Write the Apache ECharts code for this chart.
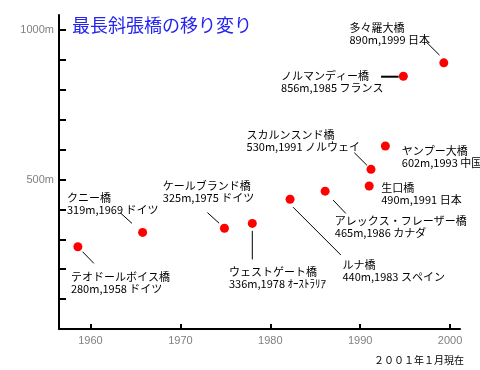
<!DOCTYPE html>
<html><head><meta charset="utf-8">
<script src="https://cdn.jsdelivr.net/npm/echarts@6/dist/echarts.min.js"></script>
<style>html,body{margin:0;padding:0;background:#fff}#c{width:480px;height:370px}</style>
</head><body><div id="c"></div>
<script>
// ---- data ----
const bridgeNames = ['テオドールボイス橋','クニー橋','ケールブランド橋','ウェストゲート橋','ルナ橋','アレックス・フレーザー橋','スカルンスンド橋','生口橋','ヤンプー大橋','ノルマンディー橋','多々羅大橋'];
const spanLabels = ['280','319','325','336','440','465','530','490','602','856','890'];
const yearLabels = ['1958','1969','1975','1978','1983','1986','1991','1991','1993','1985','1999'];
const countries = ['ドイツ','ドイツ','ドイツ','ｵｰｽﾄﾗﾘｱ','スペイン','カナダ','ノルウェイ','日本','中国','フランス','日本'];
// plotted positions (year axis, metres)
const xPlot = [1958.6,1965.8,1974.9,1978.0,1982.2,1986.1,1991.2,1991.0,1992.8,1994.8,1999.3];
const yPlot = [275,323,337,353,434,461,534,478,612,845,890];
const xTicks = [1960,1970,1980,1990,2000];
const yTicks = [100,200,300,400,500,600,700,800,900,1000];
const yLabelVals = [500,1000];

// ---- layout (pixel offsets from each dot) ----
const labelOffsets = [[-7,24],[-75.6,-40.6],[-61.6,-48.3],[-23.3,42.4],[52.4,59.7],[9.7,24],[-124.4,-40.3],[12,-4.3],[16.4,-1],[-122.3,-6.6],[-94.3,-41.3]];
const leaders = [[4.7,5,16,16.6],[-22.3,-19.6,-10.6,-9],[-17,-15.6,-5.3,-5],[0,7.4,0,36],[3,8,50.7,55.7],[8,9,20.7,22.3],[-16.7,-16.6,-4,-4],null,null,[-22.3,0.4,-4.7,0.4],[-17,-20.3,-4.3,-7.7]];
const leaderWidths = [1,1,1,1,1,1,1,0,0,2,1];

const FONT = '"Noto Sans CJK JP", sans-serif';
const NUMFONT = '"Liberation Sans Narrow", "Liberation Sans", sans-serif';
const chart = echarts.init(document.getElementById('c'));
const pts = xPlot.map((x, i) => [x, yPlot[i]]);

chart.setOption({
  animation: false,
  backgroundColor: '#fff',
  title: {
    text: '最長斜張橋の移り変り', left: 67, top: 11,
    textStyle: { fontFamily: FONT, fontSize: 18, fontWeight: 'normal', color: '#2424f0' }
  },
  graphic: [{
    type: 'text', left: 374, top: 355,
    style: { text: '２００１年１月現在', font: '10px ' + FONT, fill: '#000' }
  }],
  grid: { left: 59, right: 20, top: 15, bottom: 41 },
  xAxis: {
    type: 'value', min: 1956.5, max: 2001.1,
    splitLine: { show: false },
    axisLine: { lineStyle: { color: '#000', width: 2 } },
    axisTick: { inside: true, length: 5, customValues: xTicks, lineStyle: { color: '#000', width: 2 } },
    axisLabel: { customValues: xTicks, formatter: v => String(v), color: '#808080', fontSize: 11, fontFamily: NUMFONT, margin: 6 }
  },
  yAxis: {
    type: 'value', min: 0, max: 1050,
    splitLine: { show: false },
    axisLine: { show: true, lineStyle: { color: '#000', width: 2 } },
    axisTick: { show: true, inside: true, length: 7, customValues: yTicks, lineStyle: { color: '#000', width: 2 } },
    axisLabel: { customValues: yLabelVals, formatter: v => String(v) + 'm', color: '#808080', fontSize: 11, fontFamily: NUMFONT, margin: 5 }
  },
  series: [{
    type: 'scatter', data: pts, symbolSize: 9,
    itemStyle: { color: '#ff0000', opacity: 1 }, z: 3
  }, {
    type: 'custom', data: pts, z: 4, clip: false,
    renderItem: function (params, api) {
      const i = params.dataIndex;
      const p = api.coord([api.value(0), api.value(1)]);
      const o = labelOffsets[i];
      const children = [{
        type: 'text',
        x: p[0] + o[0], y: p[1] + o[1],
        style: {
          text: bridgeNames[i] + '\n' + spanLabels[i] + 'm,' + yearLabels[i] + ' ' + countries[i],
          font: '11px ' + FONT, fill: '#000', lineHeight: 12, verticalAlign: 'top'
        }
      }];
      const l = leaders[i];
      if (l) {
        children.push({
          type: 'line',
          shape: { x1: p[0] + l[0], y1: p[1] + l[1], x2: p[0] + l[2], y2: p[1] + l[3] },
          style: { stroke: '#000', lineWidth: leaderWidths[i] }
        });
      }
      return { type: 'group', children: children };
    }
  }]
});
</script></body></html>
